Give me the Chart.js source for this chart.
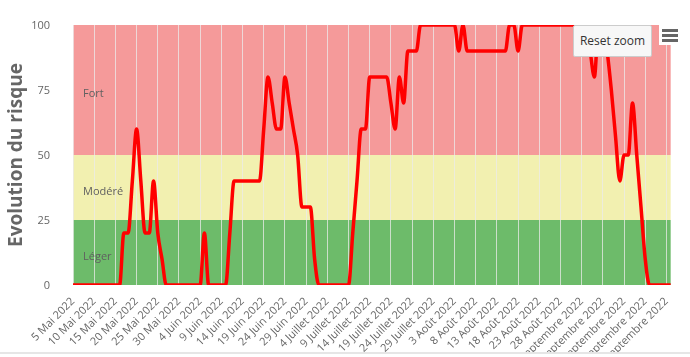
<!DOCTYPE html>
<html>
<head>
<meta charset="utf-8">
<script src="https://cdn.jsdelivr.net/npm/chart.js@4.4.1/dist/chart.umd.min.js"></script>
<style>
  html, body { margin: 0; padding: 0; background: #ffffff; }
  #wrap { position: relative; width: 690px; height: 357px; overflow: hidden; font-family: "Open Sans", sans-serif; }
  #c { position: absolute; left: 0; top: 0; }
  #bottomline { position: absolute; left: 0; top: 352px; width: 690px; height: 2px; background: #e6e6e6; }
  #reset { position: absolute; left: 573px; top: 25px; width: 79px; height: 32px; background: #f7f7f7; border: 1px solid #cccccc; border-radius: 2px; box-sizing: border-box; font-size: 12px; color: #333333; text-align: center; line-height: 30px; }
  #menu { position: absolute; left: 659px; top: 25px; width: 22px; height: 20px; background: #ffffff; }
  #menu div { position: absolute; left: 3px; width: 16px; height: 3px; background: #666666; }
</style>
</head>
<body>
<div id="wrap">
  <canvas id="c" width="690" height="352"></canvas>
  <div id="bottomline"></div>
  <div id="reset">Reset zoom</div>
  <div id="menu"><div style="top:4px"></div><div style="top:9px"></div><div style="top:14px"></div></div>
</div>
<script>
// Tick labels, one every 5 days starting 5 Mai 2022
const tickLabels = [
  "5 Mai 2022", "10 Mai 2022", "15 Mai 2022", "20 Mai 2022", "25 Mai 2022", "30 Mai 2022",
  "4 Juin 2022", "9 Juin 2022", "14 Juin 2022", "19 Juin 2022", "24 Juin 2022", "29 Juin 2022",
  "4 Juillet 2022", "9 Juillet 2022", "14 Juillet 2022", "19 Juillet 2022", "24 Juillet 2022", "29 Juillet 2022",
  "3 Août 2022", "8 Août 2022", "13 Août 2022", "18 Août 2022", "23 Août 2022", "28 Août 2022",
  "2 Septembre 2022", "7 Septembre 2022", "12 Septembre 2022", "17 Septembre 2022", "22 Septembre 2022"
];

// Daily risk values, 5 Mai 2022 .. 23 Septembre 2022
const riskValues = [
  0,0,0,0,0,0,0,0,0,0,0,0,
  20,20,40,60,40,20,20,40,20,10,
  0,0,0,0,0,0,0,0,0,
  20,
  0,0,0,0,0,
  20,
  40,40,40,40,40,40,40,
  60,80,70,60,60,80,70,60,50,30,30,30,10,
  0,0,0,0,0,0,0,0,
  20,40,60,60,
  80,80,80,80,80,
  70,60,80,70,
  90,90,90,
  100,100,100,100,100,100,100,100,100,
  90,100,
  90,90,90,90,90,90,90,90,90,90,
  100,100,90,
  100,100,100,100,100,100,100,100,100,100,100,100,100,100,100,100,
  90,80,100,100,90,75,57,40,50,50,70,50,30,10,
  0,0,0,0,0,0
];

// Risk bands
const bandNames = ["Fort", "Modéré", "Léger"];
const bandFrom = [50, 25, 0];
const bandTo = [100, 50, 25];
const bandColors = ["#f59a9a", "#f2f0b0", "#6dbb6a"];

const yTicks = [0, 25, 50, 75, 100];

const categories = riskValues.map((v, i) => (i % 5 === 0 ? tickLabels[i / 5] : ""));

const bandsPlugin = {
  id: "bands",
  beforeDraw(chart) {
    const { ctx, chartArea, scales } = chart;
    const y = scales.y;
    ctx.save();
    for (let i = 0; i < bandNames.length; i++) {
      const top = y.getPixelForValue(bandTo[i]);
      const bot = y.getPixelForValue(bandFrom[i]);
      ctx.fillStyle = bandColors[i];
      ctx.fillRect(chartArea.left, top, chartArea.right - chartArea.left, bot - top);
    }
    ctx.restore();
  },
  beforeDatasetsDraw(chart) {
    const { ctx, chartArea, scales } = chart;
    const y = scales.y;
    ctx.save();
    ctx.font = '11px "Open Sans"';
    ctx.fillStyle = "#606060";
    ctx.textAlign = "left";
    ctx.textBaseline = "middle";
    for (let i = 0; i < bandNames.length; i++) {
      const top = y.getPixelForValue(bandTo[i]);
      const bot = y.getPixelForValue(bandFrom[i]);
      ctx.fillText(bandNames[i], chartArea.left + 10, (top + bot) / 2 + 4);
    }
    ctx.restore();
  }
};

new Chart(document.getElementById("c"), {
  type: "line",
  plugins: [bandsPlugin],
  data: {
    labels: categories,
    datasets: [{
      data: riskValues,
      borderColor: "#ff0000",
      borderWidth: 3.5,
      pointRadius: 0,
      fill: false,
      cubicInterpolationMode: "monotone"
    }]
  },
  options: {
    responsive: false,
    animation: false,
    devicePixelRatio: 1,
    layout: { padding: { top: 25, right: 10, left: 0, bottom: 0 } },
    plugins: { legend: { display: false }, tooltip: { enabled: false } },
    scales: {
      x: {
        type: "category",
        border: { display: false },
        grid: {
          drawTicks: false,
          lineWidth: 1,
          color: (c) => (c.index % 5 === 0 ? "rgba(235,235,235,0.75)" : "rgba(0,0,0,0)")
        },
        ticks: {
          autoSkip: false,
          maxRotation: 45,
          minRotation: 45,
          padding: 10,
          color: "#666666",
          font: { family: "Open Sans", size: 11 },
          callback: (v, i) => categories[i]
        },
        afterFit: (s) => { s.height = 67; }
      },
      y: {
        min: 0,
        max: 100,
        border: { display: false },
        grid: { display: false },
        afterBuildTicks: (s) => { s.ticks = yTicks.map((v) => ({ value: v })); },
        ticks: {
          padding: 15,
          labelOffset: 1,
          color: "#666666",
          font: { family: "Open Sans", size: 11 }
        },
        title: {
          display: true,
          text: "Evolution du risque",
          color: "#666666",
          font: { family: "Open Sans", size: 19, weight: "bold" },
          padding: { top: 5, bottom: 0 }
        },
        afterFit: (s) => { s.width = 73; }
      }
    }
  }
});
</script>
</body>
</html>
